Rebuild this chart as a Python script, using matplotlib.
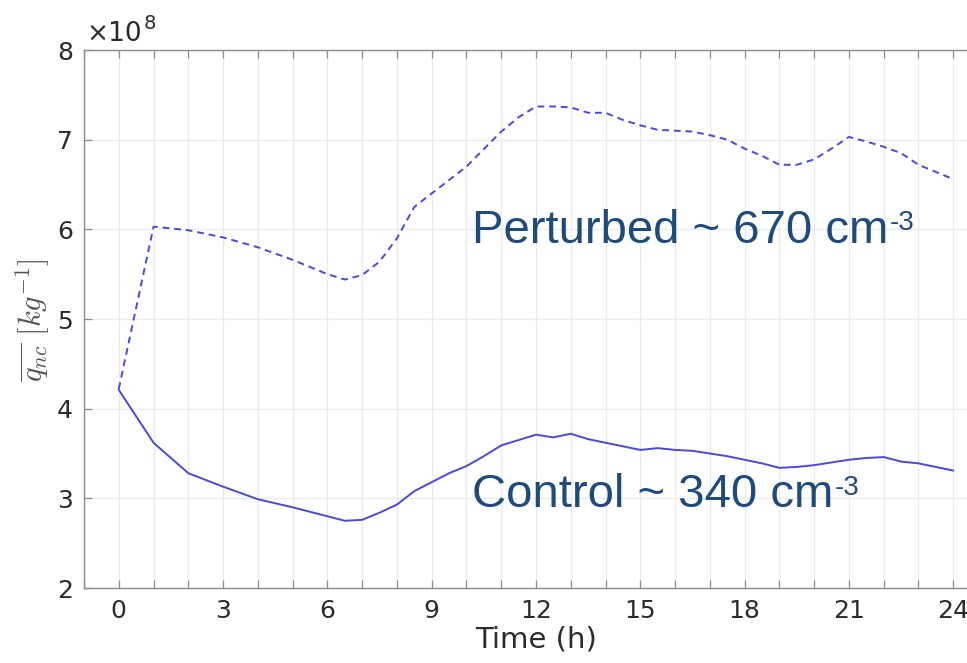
import numpy as np
import matplotlib
matplotlib.use("Agg")
import matplotlib.pyplot as plt
from matplotlib.ticker import MultipleLocator

# values are in units of 1e8 kg^-1 (axis shows x10^8)
t_control = [0, 1, 2, 3, 4, 5, 6, 6.5, 7, 7.5, 8, 8.5, 9, 9.5, 10, 10.5, 11, 11.5,
             12, 12.5, 13, 13.5, 14, 14.5, 15, 15.5, 16, 16.5, 17, 17.5, 18, 18.5,
             19, 19.5, 20, 20.5, 21, 21.5, 22, 22.5, 23, 23.5, 24]
q_control = [4.21, 3.62, 3.28, 3.13, 2.99, 2.90, 2.80, 2.75, 2.76, 2.84, 2.93, 3.08,
             3.18, 3.28, 3.36, 3.47, 3.59, 3.65, 3.71, 3.68, 3.72, 3.66, 3.62, 3.58,
             3.54, 3.56, 3.54, 3.53, 3.50, 3.47, 3.43, 3.39, 3.34, 3.35, 3.37, 3.40,
             3.43, 3.45, 3.46, 3.41, 3.39, 3.35, 3.31]

t_perturbed = [0, 1, 2, 3, 4, 5, 6, 6.5, 7, 7.5, 8, 8.5, 9, 10, 11, 11.5, 12, 12.5,
               13, 13.5, 14, 14.5, 15, 15.5, 16, 16.5, 17, 17.5, 18, 18.5, 19, 19.5,
               20, 20.5, 21, 21.5, 22, 22.5, 23, 23.5, 24]
q_perturbed = [4.22, 6.03, 5.99, 5.91, 5.80, 5.66, 5.50, 5.44, 5.49, 5.64, 5.90, 6.25,
               6.40, 6.70, 7.09, 7.25, 7.37, 7.37, 7.36, 7.30, 7.30, 7.22, 7.16, 7.11,
               7.10, 7.09, 7.05, 7.00, 6.90, 6.82, 6.72, 6.72, 6.78, 6.90, 7.03, 6.98,
               6.92, 6.85, 6.72, 6.64, 6.56]

label_perturbed = "Perturbed ~ 670 cm"
label_control = "Control ~ 340 cm"
sup = "-3"

line_color = "#4b48dc"
note_color = "#1f4a7c"
tick_color = "#2b2b2b"
spine_color = "#8c8c8c"

plt.rcParams["mathtext.fontset"] = "cm"

fig = plt.figure(figsize=(9.67, 6.63), dpi=100)
ax = fig.add_axes([84 / 967, 75 / 663, 904 / 967, 538 / 663])

ax.plot(t_control, q_control, color=line_color, lw=1.4)
ax.plot(t_perturbed, q_perturbed, color=line_color, lw=1.4, ls=(0, (3.5, 2.5)))

ax.set_xlim(-1, 25)
ax.set_ylim(2, 8)
ax.xaxis.set_major_locator(MultipleLocator(3))
ax.xaxis.set_minor_locator(MultipleLocator(1))
ax.yaxis.set_major_locator(MultipleLocator(1))

ax.grid(True, which="major", axis="y", color="#ebebeb", lw=0.9)
ax.grid(True, which="both", axis="x", color="#ebebeb", lw=0.9)
ax.set_axisbelow(True)

ax.tick_params(which="both", direction="in", top=True, right=False,
               color=spine_color, width=0.9, length=6)
ax.tick_params(axis="x", labelsize=18, labelcolor=tick_color, pad=8)
ax.tick_params(axis="y", labelsize=18, labelcolor=tick_color, pad=8)
for s in ax.spines.values():
    s.set_color(spine_color)
    s.set_linewidth(1.0)

ax.set_xlabel("Time (h)", fontsize=21, color=tick_color, labelpad=2)
fig.text(33 / 967, 1 - 320 / 663, r"$\overline{q_{nc}}\ [kg^{-1}]$", rotation=90,
         ha="center", va="center", fontsize=22, color="#555555")

off = ax.text(-0.93, 8.03, "\u00d710", fontsize=19, color=tick_color,
              ha="left", va="bottom", family="DejaVu Sans")
ax.annotate("8", xy=(1, 1), xycoords=off, xytext=(1, -1.5), textcoords="offset points",
            fontsize=14, color=tick_color, family="DejaVu Sans", ha="left", va="center")

for x, y, txt in [(10.15, 5.85, label_perturbed), (10.15, 2.9, label_control)]:
    t = ax.text(x, y, txt, fontsize=34, color=note_color, family="Liberation Sans",
                ha="left", va="baseline")
    ax.annotate(sup, xy=(1, 1), xycoords=t, xytext=(1, -1), textcoords="offset points",
                fontsize=20, color=note_color, family="Liberation Sans",
                ha="left", va="top")

fig.savefig("out.png", dpi=100)
